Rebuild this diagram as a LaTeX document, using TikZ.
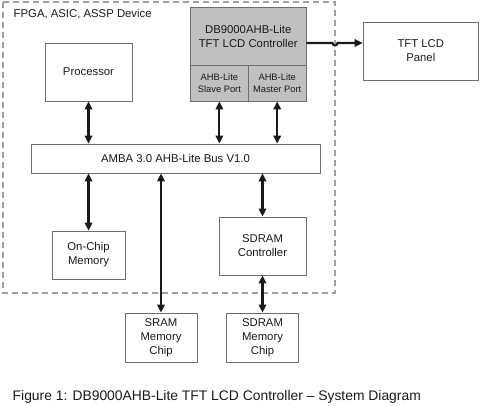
\documentclass[tikz,border=0pt]{standalone}
\usepackage{fontspec}
\setmainfont{Liberation Sans}
\usepackage{xcolor}
\usepackage{tikz}
\usetikzlibrary{arrows.meta}
\definecolor{edge}{HTML}{6E6E6E}
\definecolor{dash}{HTML}{A0A0A0}
\definecolor{ctrlfill}{HTML}{C0C0C0}
\definecolor{ink}{HTML}{1A1A1A}
\tikzset{
  blk/.style={draw=edge, line width=0.6pt, fill=white, align=center, text=ink,
    font=\fontsize{8.5}{10.5}\selectfont, inner sep=1pt},
  portblk/.style={blk, fill=ctrlfill, font=\fontsize{7}{8.6}\selectfont},
  link/.style={draw=ink, line width=1.6pt,
    {Triangle[length=6pt,width=5.6pt]}-{Triangle[length=6pt,width=5.6pt]}},
  oneway/.style={draw=ink, line width=1.6pt, -{Triangle[length=6pt,width=5.6pt]}},
  device/.style={draw=dash, line width=1pt, dash pattern=on 4.5pt off 3pt},
  lab/.style={text=ink, font=\fontsize{8.5}{10.5}\selectfont},
}

\begin{document}
\begin{tikzpicture}[x=0.75pt, y=-0.75pt]
  \useasboundingbox (0,0) rectangle (480,406);

  % device boundary
  \draw[device] (3,2) rectangle (335,293);
  \node[lab, anchor=west] (devlab) at (9,14) {FPGA, ASIC, ASSP Device};

  % blocks
  \node[blk, minimum width=65.25pt, minimum height=43.5pt] (proc) at (88.5,72) {Processor};
  \node[blk, fill=ctrlfill, minimum width=86.6pt, minimum height=43.5pt] (ctrl) at (248.25,36) {DB9000AHB-Lite\\TFT LCD Controller};
  \node[portblk, minimum width=43.3pt, minimum height=27pt] (slave) at (219.4,83) {AHB-Lite\\Slave Port};
  \node[portblk, minimum width=43.3pt, minimum height=27pt] (master) at (277.2,83) {AHB-Lite\\Master Port};
  \node[blk, minimum width=86.6pt, minimum height=43.5pt] (panel) at (420.8,51) {TFT LCD\\Panel};
  \node[blk, minimum width=216.75pt, minimum height=21.75pt] (bus) at (175.5,158.5) {AMBA 3.0 AHB-Lite Bus V1.0};
  \node[blk, minimum width=54.75pt, minimum height=36pt] (onchip) at (88.5,255) {On-Chip\\Memory};
  \node[blk, minimum width=65.25pt, minimum height=43.5pt] (sdctrl) at (262.5,246) {SDRAM\\Controller};
  \node[blk, minimum width=54pt, minimum height=36.75pt] (sram) at (161,337.5) {SRAM\\Memory\\Chip};
  \node[blk, minimum width=54pt, minimum height=36.75pt] (sdchip) at (262.5,337.5) {SDRAM\\Memory\\Chip};

  % connectors
  \draw[link] (proc.south) -- (proc.south |- bus.north);
  \draw[link] (slave.south) -- (slave.south |- bus.north);
  \draw[link] (master.south) -- (master.south |- bus.north);
  \draw[link] (onchip.north |- bus.south) -- (onchip.north);
  \draw[link] (sram.north |- bus.south) -- (sram.north);
  \draw[link] (sdctrl.north |- bus.south) -- (sdctrl.north);
  \draw[link] (sdctrl.south) -- (sdchip.north);

  % video out, hops over the boundary
  \coordinate (vout) at (306.5,43);
  \draw[oneway] (vout) -- (332.5,43) arc[start angle=180, end angle=0, radius=2.5] -- (panel.west |- vout);

  % caption
  \node[lab, anchor=west, font=\fontsize{10.4}{12.5}\selectfont] (caption) at (8,397) {Figure 1: DB9000AHB-Lite TFT LCD Controller – System Diagram};
\end{tikzpicture}
\end{document}
